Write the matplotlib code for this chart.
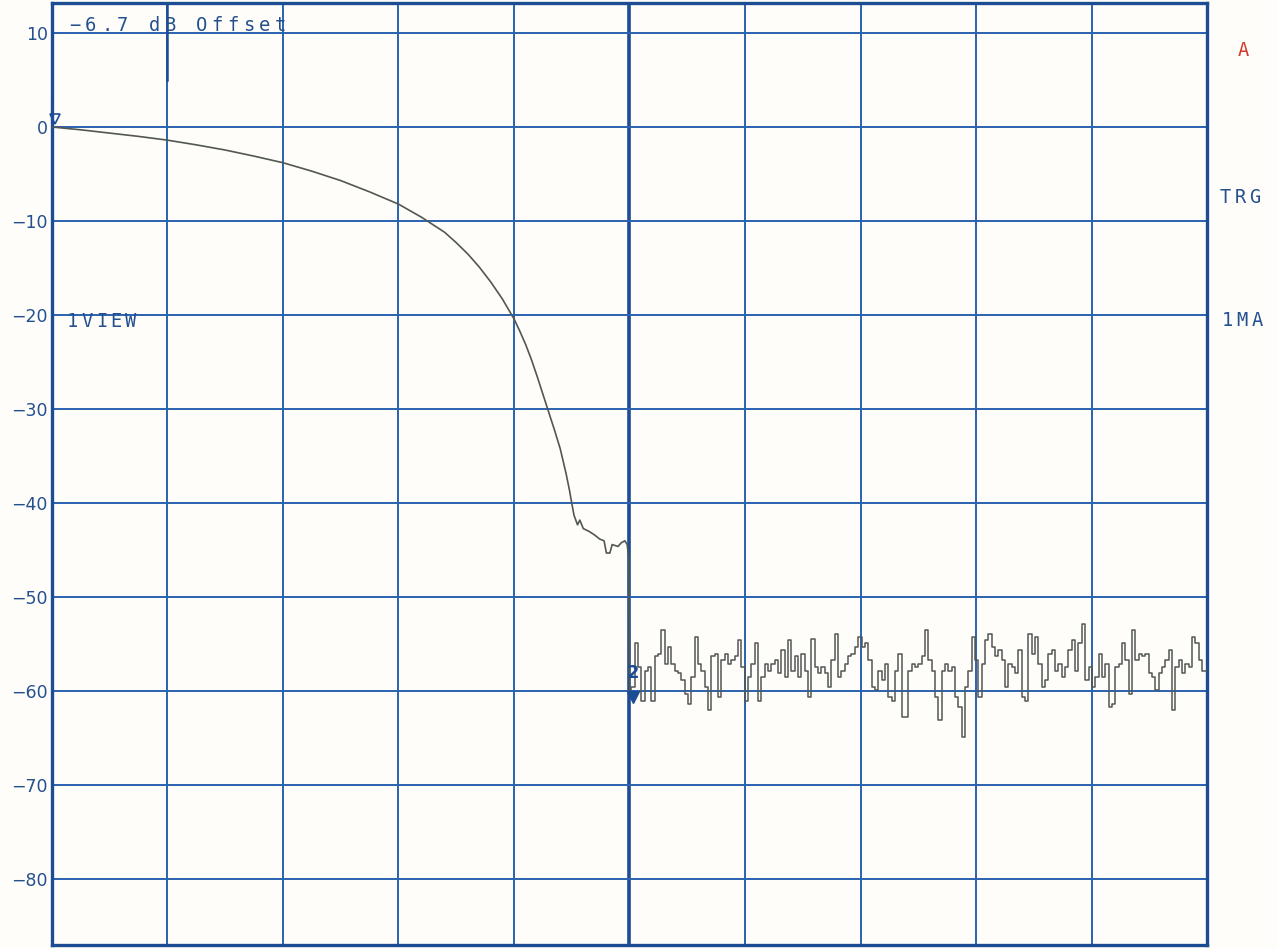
import numpy as np
import matplotlib
matplotlib.use('Agg')
import matplotlib.pyplot as plt
import matplotlib.transforms as mtransforms

# Roll-off of the filter (divisions, dB)
x_roll = [0, 0.25, 0.5, 0.75, 1.0, 1.25, 1.5, 1.75, 2.0, 2.25, 2.5, 2.75, 3.0,
          3.1, 3.2, 3.3, 3.4, 3.5, 3.6, 3.7, 3.8, 3.9, 4.0, 4.05, 4.1, 4.15, 4.2,
          4.25, 4.3, 4.35, 4.4, 4.45, 4.48, 4.5, 4.52, 4.55, 4.57, 4.6, 4.65, 4.7,
          4.74, 4.78, 4.8, 4.83, 4.85, 4.9, 4.93, 4.96, 4.98, 4.995]
y_roll = [0, -0.3, -0.65, -1.0, -1.4, -1.9, -2.45, -3.1, -3.8, -4.7, -5.7, -6.9, -8.2,
          -8.9, -9.6, -10.4, -11.2, -12.3, -13.5, -14.9, -16.5, -18.3, -20.4, -21.7,
          -23.1, -24.7, -26.5, -28.4, -30.3, -32.2, -34.2, -36.8, -38.6, -40.0, -41.3,
          -42.3, -41.8, -42.7, -43.0, -43.4, -43.8, -44.0, -45.3, -45.3, -44.4, -44.6,
          -44.2, -44.0, -44.4, -46.0]

# Noise floor from division 5 to 10 (dB)
noise = [-59.9, -59.5, -54.9, -57.4, -61.0, -57.8, -57.4, -61.0, -56.3, -56.0, -53.5, -57.1,
         -55.3, -57.1, -57.8, -58.1, -58.8, -60.3, -61.3, -58.5, -54.2, -57.1, -57.8, -59.5,
         -62.0, -56.3, -56.0, -60.6, -56.7,
         -56.0, -57.1, -56.7, -56.3, -54.6, -57.4, -61.0, -58.5, -57.1, -54.9, -61.0, -58.5,
         -57.1, -57.8, -57.1, -56.7, -58.1, -55.6, -58.5, -54.6, -57.8, -56.3, -58.5, -56.0,
         -57.8, -60.6, -54.4, -57.4, -58.1,
         -57.4, -58.1, -59.5, -56.7, -53.9, -58.5, -57.8, -57.1, -56.3, -56.0, -55.3, -54.2,
         -55.3, -54.9, -56.7, -59.5, -59.9, -57.8, -58.8, -57.1, -60.6, -61.0, -57.8, -56.0,
         -62.7, -62.7, -57.8, -57.1, -57.4,
         -57.1, -56.3, -53.5, -56.7, -57.8, -60.6, -63.1, -57.8, -57.1, -57.8, -57.4, -60.6,
         -61.7, -64.9, -59.5, -57.8, -54.2, -56.7, -60.6, -57.1, -54.6, -53.9, -55.3, -56.3,
         -55.6, -56.7, -59.5, -57.1, -57.4,
         -58.1, -55.6, -60.6, -61.0, -53.9, -56.0, -54.2, -57.1, -59.5, -58.8, -56.0, -55.6,
         -57.8, -57.1, -58.5, -57.4, -55.6, -54.6, -57.8, -54.9, -52.8, -58.8, -57.4, -59.5,
         -58.5, -56.0, -58.5, -57.1, -61.7,
         -61.3, -57.4, -57.1, -54.9, -56.7, -60.3, -53.5, -56.7, -56.0, -56.3, -56.0, -58.1,
         -58.5, -59.9, -58.1, -57.4, -56.7, -55.6, -62.0, -57.4, -56.7, -58.1, -57.1, -57.4,
         -54.2, -54.9, -56.7, -57.8, -57.8]

y_ticks = [10, 0, -10, -20, -30, -40, -50, -60, -70, -80]

grid_col = '#2a62b0'
dark_blue = '#1b4c94'
text_col = '#24508f'
trace_col = '#525752'
font = 'DejaVu Sans'
mono = 'DejaVu Sans Mono'

fig = plt.figure(figsize=(12.77, 9.49), dpi=100, facecolor='#fffdf9')
ax = fig.add_axes([0.0407, 0.004, 0.9045, 0.993])
ax.set_facecolor('#fffdf9')
ax.set_xlim(0, 10)
ax.set_ylim(-87, 13.2)

for gx in range(1, 10):
    if gx == 5:
        ax.axvline(gx, color=dark_blue, lw=2.6, zorder=1)
    else:
        ax.axvline(gx, color=grid_col, lw=1.4, zorder=1)
for gy in y_ticks:
    ax.axhline(gy, color=grid_col, lw=1.4, zorder=1)
ax.plot([1, 1], [13.2, 5], color=dark_blue, lw=1.8, zorder=1)

for s in ax.spines.values():
    s.set_color(dark_blue)
    s.set_linewidth(2.4)

ax.set_xticks([])
ax.set_yticks(y_ticks)
ax.set_yticklabels([str(t).replace('-', '\u2212') for t in y_ticks], family=font,
                   fontsize=12.5, color=text_col)
ax.tick_params(axis='y', length=0, pad=3)

# trace
ax.plot(x_roll + [5.0], y_roll + [noise[0]], color=trace_col, lw=1.2, zorder=3)
x_noise = np.linspace(5.0, 10.0, len(noise))
ax.plot(x_noise, noise, color=trace_col, lw=1.1, drawstyle='steps-mid', zorder=3)

# markers
ax.plot([0.03], [0.8], marker='v', ms=7, mfc='none', mec=dark_blue, mew=1.2, zorder=4,
        clip_on=False)
ax.plot([0.0, 0.0], [0.5, 3.0], color=dark_blue, lw=1.5, zorder=4, clip_on=False)
ax.plot([5.03], [-60.6], marker='v', ms=8, color=dark_blue, zorder=4)
ax.text(5.03, -58.1, '2', family=font, fontsize=13, fontweight='bold', color=dark_blue,
        ha='center', va='center', zorder=4)


def spaced_text(x, y, s, step_px, color):
    # plotter style lettering: fixed pitch, each glyph centred in its cell
    for i, ch in enumerate(s):
        if ch == '-':
            ch = '\u2212'
        tr = mtransforms.offset_copy(ax.transData, fig=fig, x=i * step_px * 0.72, y=0,
                                     units='points')
        ax.text(x, y, ch, family=mono, fontsize=13.5, color=color, ha='center',
                va='baseline', transform=tr, clip_on=False)


spaced_text(0.2, 10.25, '-6.7 dB Offset', 15.8, text_col)
spaced_text(0.18, -21.3, '1VIEW', 14.4, text_col)
spaced_text(10.31, 7.6, 'A', 14.5, '#d23a2a')
spaced_text(10.16, -8.1, 'TRG', 14.5, text_col)
spaced_text(10.18, -21.2, '1MA', 14.5, text_col)

fig.savefig('out.png', dpi=100, facecolor=fig.get_facecolor())
